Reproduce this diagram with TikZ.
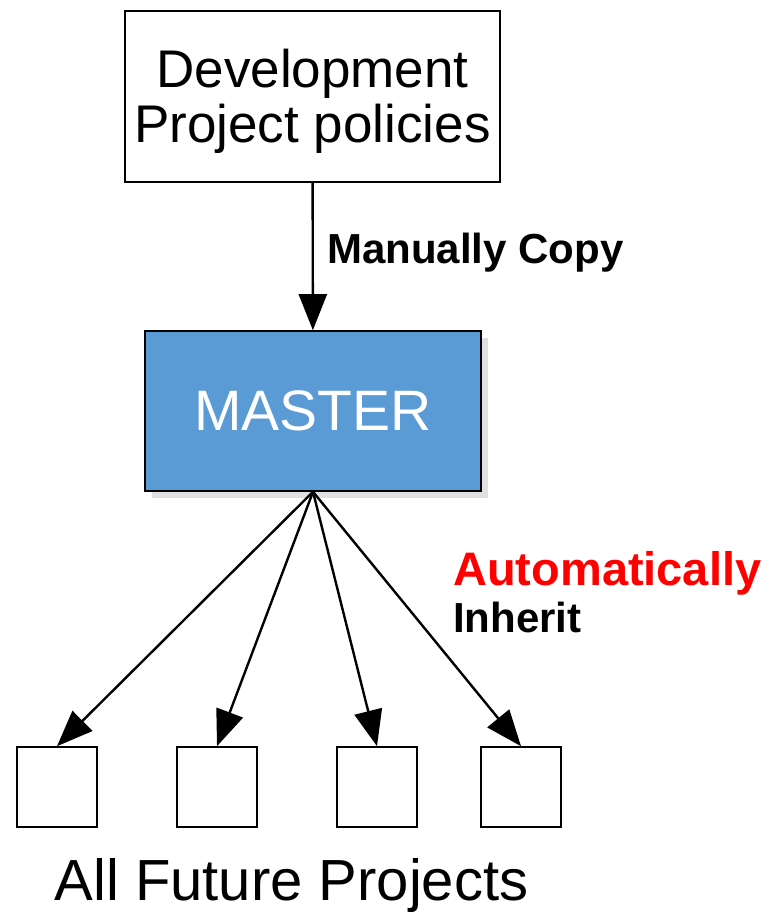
\documentclass[tikz,border=0pt]{standalone}
\usepackage{fontspec}
\setmainfont{Liberation Sans}
\usetikzlibrary{arrows.meta,shadows}
\definecolor{masterblue}{HTML}{5B9BD5}
\tikzset{
	box/.style={draw=black,line width=1.6pt,fill=white,inner sep=0pt},
	lbl/.style={font=\fontsize{42}{48}\selectfont\bfseries,inner sep=0pt}
}
\begin{document}
\begin{tikzpicture}[x=1pt,y=-1pt,
	flowarrow/.style={draw=black,line width=2.4pt,arrows={-Triangle[length=36pt,width=28pt]}}]
		\useasboundingbox (0,0) rectangle (769,913);
		\node[box,minimum width=375pt,minimum height=171pt] (dev) at (312.5,96.5) {};
		\node[inner sep=0pt,align=center,font=\fontsize{53}{55}\selectfont,yshift=-5pt] (devtext) at (dev) {Development\\Project policies};
		\node[box,fill=masterblue,text=white,minimum width=336pt,minimum height=160pt,font=\fontsize{57}{60}\selectfont,drop shadow={shadow xshift=7pt,shadow yshift=-7pt,fill=black!12,opacity=1}] (master) at (313,411) {MASTER};
		\foreach \i/\x in {1/57,2/217,3/377,4/521}
			\node[box,minimum width=80pt,minimum height=80pt] (p\i) at (\x,787) {};
		\draw[flowarrow] (dev) -- (master);
		\foreach \i in {1,...,4}
			\draw[flowarrow] (master.south) -- (p\i.north);
		\node[lbl,anchor=base west] (copy) at (327,263) {Manually Copy};
		\node[lbl,anchor=base west,text=red,font=\fontsize{47}{50}\selectfont\bfseries] (auto) at (453,585) {Automatically};
		\node[lbl,anchor=base west] (inherit) at (453,632) {Inherit};
		\node[inner sep=0pt,anchor=base,font=\fontsize{58}{60}\selectfont] (future) at (291.5,900) {All Future Projects};
	\end{tikzpicture}
\end{document}
